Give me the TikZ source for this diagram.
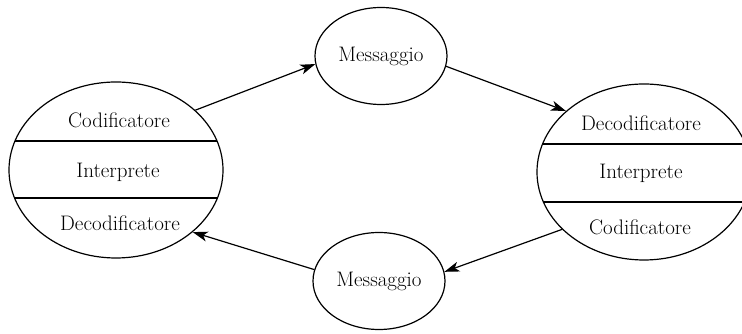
\documentclass[tikz,border=0pt]{standalone}
\usetikzlibrary{shapes.geometric,arrows.meta,calc}
\begin{document}
\begin{tikzpicture}[x=1pt,y=1pt,
  lbl/.style={font=\fontsize{21}{24}\selectfont, inner sep=0pt},
  party/.style={draw, line width=1.2pt, ellipse, inner sep=0pt,
                minimum width=214pt, minimum height=176pt},
  msg/.style={draw, line width=1.2pt, ellipse, inner sep=0pt,
              minimum width=132pt, minimum height=97pt,
              font=\fontsize{21}{24}\selectfont},
  flow/.style={line width=1.2pt, -{Stealth[length=15pt,width=10pt,inset=4pt]}},
  chord/.style={line width=1.2pt}]
\useasboundingbox (0,0) rectangle (742,334);

% sender / receiver ellipses
\node[party] (L) at (116,164) {};
\node[party] (R) at (644,162) {};

% chords splitting each ellipse in three bands
\begin{scope}
  \clip (L.center) ellipse [x radius=107pt, y radius=88pt];
  \draw[chord] ($(L.center)+(-120,29)$) -- ++(240,0);
  \draw[chord] ($(L.center)+(-120,-28)$) -- ++(240,0);
\end{scope}
\begin{scope}
  \clip (R.center) ellipse [x radius=107pt, y radius=88pt];
  \draw[chord] ($(R.center)+(-120,28)$) -- ++(240,0);
  \draw[chord] ($(R.center)+(-120,-30)$) -- ++(240,0);
\end{scope}

% band labels
\node[lbl] (Lcod) at (119,214) {Codificatore};
\node[lbl] (Lint) at (118,162) {Interprete};
\node[lbl] (Ldec) at (120,111) {Decodificatore};
\node[lbl] (Rdec) at (641,211) {Decodificatore};
\node[lbl] (Rint) at (641,161) {Interprete};
\node[lbl] (Rcod) at (640,107) {Codificatore};

% message circles
\node[msg] (Mt) at (381,278) {Messaggio};
\node[msg] (Mb) at (379,53) {Messaggio};

% message flow
\draw[flow] (L.37.5) -- (Mt.187.8);
\draw[flow] (Mt.-9.8) -- (R.142.4);
\draw[flow] (R.215.3) -- (Mb.8);
\draw[flow] (Mb.170) -- (L.-39.7);
\end{tikzpicture}
\end{document}
